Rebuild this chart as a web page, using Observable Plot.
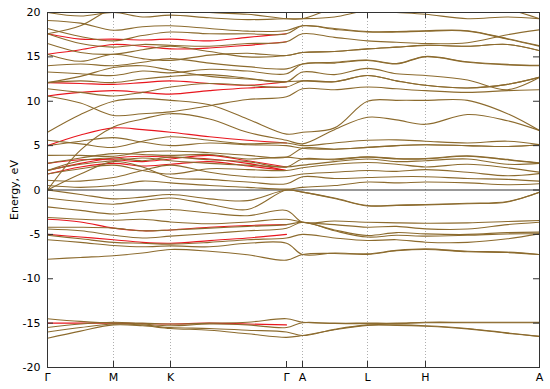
<!DOCTYPE html>
<html>
<head>
<meta charset="utf-8">
<script src="https://cdn.jsdelivr.net/npm/d3@7"></script>
<script src="https://cdn.jsdelivr.net/npm/@observablehq/plot@0.6"></script>
<style>
  html, body { margin: 0; padding: 0; background: white; }
</style>
</head>
<body>
<div id="chart"></div>
<script>
// k-path sample positions (path length units) and high-symmetry points
const kSample = [0, 33, 66, 95, 123, 162, 200, 239, 255, 287, 320, 349, 378, 420, 460, 492];
const kTicks = [0, 66, 123, 239, 255, 320, 378, 492];
const kLabels = ["Γ", "M", "K", "Γ", "A", "L", "H", "A"];
const gridK = [66, 123, 255, 320, 378];
const energyTicks = [-20, -15, -10, -5, 0, 5, 10, 15, 20];

// Energies (eV) at kSample points
const lowBands = [
  [-14.5, -14.8, -15.0, -15.0, -15.1, -15.0, -14.9, -14.5, -14.9, -15.0, -15.0, -15.0, -14.9, -14.9, -14.9, -14.9],
  [-15.5, -15.1, -14.9, -15.1, -15.3, -15.1, -15.2, -15.5, -14.95, -15.05, -15.05, -15.05, -14.95, -14.95, -14.95, -14.95],
  [-16.0, -15.5, -15.1, -15.2, -15.5, -15.6, -15.8, -16.0, -16.4, -15.7, -15.2, -15.2, -15.3, -15.6, -16.1, -16.5],
  [-16.7, -15.9, -15.2, -15.3, -15.6, -15.8, -16.2, -16.6, -16.4, -15.75, -15.25, -15.25, -15.35, -15.65, -16.15, -16.5]
];

const valenceBands = [
  [0.0, -0.5, -1.0, -0.8, -0.5, -1.0, -1.2, 0.0, -0.24, -0.9, -1.75, -1.7, -1.63, -1.5, -1.3, -0.24],
  [-0.9, -1.3, -1.6, -1.2, -0.9, -1.6, -2.2, 0.0, -0.24, -0.95, -1.8, -1.75, -1.68, -1.55, -1.35, -0.24],
  [-1.9, -2.3, -2.7, -2.4, -2.2, -2.6, -2.9, -2.3, -3.63, -3.5, -3.63, -3.7, -3.74, -3.7, -3.55, -3.44],
  [-3.1, -3.3, -3.4, -3.3, -3.6, -3.8, -3.6, -3.3, -3.63, -3.9, -4.19, -4.1, -4.38, -4.4, -3.9, -3.63],
  [-4.2, -4.2, -4.3, -4.6, -4.5, -4.3, -4.1, -3.9, -3.63, -4.5, -5.13, -4.8, -4.94, -5.0, -4.8, -4.75],
  [-4.4, -4.6, -5.1, -5.4, -5.2, -4.9, -4.6, -4.3, -3.63, -4.6, -5.3, -5.1, -5.2, -5.1, -4.95, -4.94],
  [-5.1, -5.5, -5.9, -6.0, -6.1, -5.9, -5.6, -5.4, -5.0, -5.4, -5.69, -5.6, -5.88, -5.9, -5.5, -4.94],
  [-5.6, -5.9, -6.25, -6.4, -6.3, -6.4, -6.0, -6.0, -7.27, -7.1, -7.19, -6.8, -6.63, -6.9, -7.0, -7.27],
  [-7.8, -7.6, -7.4, -7.1, -6.7, -6.9, -7.3, -7.9, -7.27, -7.15, -7.25, -6.85, -6.7, -6.95, -7.05, -7.27]
];

const conductionBands = [
  [0.5, 0.3, 0.5, 1.0, 0.8, 0.5, 0.3, 0.1, 0.3, 0.5, 0.9, 0.8, 0.9, 0.8, 0.6, 0.7],
  [0.0, 1.8, 3.2, 2.6, 1.4, 1.2, 0.9, 0.7, 1.5, 1.3, 1.4, 1.5, 1.5, 1.3, 1.2, 1.0],
  [1.1, 1.0, 1.4, 2.2, 2.8, 2.0, 1.5, 1.5, 1.8, 2.0, 2.2, 2.1, 2.3, 2.0, 1.6, 1.85],
  [1.8, 2.4, 2.8, 2.2, 1.8, 2.4, 2.3, 2.2, 2.5, 2.9, 3.1, 2.9, 2.6, 2.9, 2.5, 2.0],
  [2.2, 2.9, 3.3, 3.6, 3.3, 3.0, 2.8, 2.6, 2.8, 3.2, 3.5, 3.2, 3.3, 3.5, 2.9, 3.0],
  [2.2, 3.3, 3.6, 3.3, 3.7, 3.4, 3.2, 2.6, 3.5, 3.4, 3.7, 3.5, 3.5, 3.8, 3.4, 3.0],
  [3.0, 3.6, 4.1, 4.0, 3.9, 4.0, 3.5, 3.7, 3.5, 3.5, 3.75, 3.55, 3.55, 3.85, 3.45, 3.05],
  [3.9, 3.9, 3.8, 4.3, 4.4, 4.2, 3.9, 3.7, 4.7, 4.6, 4.8, 5.0, 5.1, 5.0, 4.9, 5.1],
  [5.0, 5.5, 5.9, 5.4, 5.0, 5.3, 5.1, 5.0, 4.7, 4.6, 4.8, 5.0, 5.1, 5.0, 4.9, 5.1],
  [5.6, 5.2, 4.8, 5.5, 6.0, 5.6, 5.2, 5.3, 5.0, 5.3, 5.6, 5.65, 5.5, 5.3, 5.5, 5.1],
  [6.5, 8.5, 10.0, 10.3, 10.1, 9.6, 8.0, 6.3, 6.5, 7.0, 10.0, 10.1, 10.1, 10.1, 8.6, 6.7],
  [0.0, 4.5, 7.1, 8.0, 8.6, 8.0, 6.5, 5.6, 5.2, 6.8, 8.2, 7.9, 7.4, 8.5, 7.8, 6.7],
  [10.6, 9.8, 8.4, 8.6, 8.8, 9.5, 10.2, 10.5, 11.4, 11.3, 11.6, 11.4, 11.2, 11.0, 11.2, 11.3],
  [11.4, 11.0, 10.6, 11.0, 11.6, 12.0, 11.8, 11.6, 12.3, 12.2, 12.9, 12.3, 11.8, 11.5, 11.9, 12.7],
  [12.1, 12.3, 12.1, 12.5, 12.8, 13.0, 12.6, 12.2, 13.3, 13.0, 13.7, 13.1, 12.9, 12.4, 11.3, 12.7],
  [12.1, 12.8, 13.8, 14.0, 13.5, 12.8, 12.5, 12.2, 12.3, 12.2, 12.9, 12.3, 11.8, 11.5, 11.9, 12.7],
  [13.3, 13.1, 12.9, 13.4, 13.2, 13.6, 13.4, 13.1, 14.2, 14.3, 14.6, 14.2, 15.0, 14.4, 14.1, 14.0],
  [14.0, 14.2, 14.0, 14.4, 14.8, 14.3, 13.9, 13.65, 14.2, 14.4, 14.65, 14.25, 15.05, 14.45, 14.15, 14.05],
  [15.3, 14.5, 15.3, 14.8, 14.6, 15.2, 15.4, 15.15, 15.5, 15.6, 15.9, 16.1, 16.3, 16.2, 16.4, 15.7],
  [16.5, 15.5, 15.3, 15.8, 16.2, 15.6, 15.0, 15.15, 15.5, 15.6, 15.9, 16.1, 16.3, 16.2, 16.4, 15.7],
  [17.6, 16.5, 16.1, 16.4, 16.3, 16.2, 16.5, 16.7, 17.6, 17.2, 16.8, 16.65, 16.5, 16.6, 17.5, 18.05],
  [18.2, 17.3, 16.8, 17.4, 17.8, 17.6, 17.6, 17.6, 18.5, 18.1, 17.8, 17.8, 17.9, 17.9, 17.0, 16.2],
  [19.1, 18.8, 18.0, 18.4, 18.5, 18.2, 17.9, 17.97, 18.5, 18.2, 17.85, 17.85, 17.95, 17.95, 17.05, 16.25],
  [20.0, 19.6, 20.0, 19.5, 19.7, 19.4, 19.2, 19.3, 19.3, 19.5, 20.2, 20.0, 19.8, 19.3, 19.5, 19.3],
  [17.6, 18.5, 20.5, 21.0, 20.5, 20.0, 19.8, 19.3, 19.3, 20.5, 21.0, 21.0, 21.0, 20.5, 20.3, 19.3]
];

// Second (red) data set, drawn along Γ–M–K–Γ only
const redBands = [
  [17.6, 17.0, 17.0, 16.9, 17.0, 16.8, 17.2, 17.6],
  [15.3, 15.8, 16.4, 16.2, 15.9, 16.0, 16.3, 16.7],
  [12.1, 12.0, 11.9, 12.1, 12.3, 12.0, 11.8, 12.2],
  [10.6, 11.0, 11.2, 11.0, 10.8, 11.2, 11.5, 11.6],
  [5.0, 6.2, 7.0, 6.8, 6.5, 6.0, 5.6, 5.3],
  [2.2, 3.0, 3.6, 3.8, 3.7, 3.5, 3.0, 2.2],
  [3.0, 3.4, 3.4, 3.2, 3.5, 3.9, 3.3, 2.6],
  [1.8, 2.6, 3.0, 2.7, 2.9, 3.2, 2.7, 2.2],
  [-3.3, -3.6, -4.3, -4.6, -4.5, -4.2, -4.0, -3.9],
  [-5.0, -5.3, -5.6, -5.9, -6.0, -5.7, -5.4, -5.0],
  [-15.0, -15.0, -15.0, -15.05, -15.1, -15.0, -15.1, -15.2]
];

function toRows(bands, prefix) {
  const rows = [];
  bands.forEach((b, i) => b.forEach((e, j) => rows.push({band: prefix + i, k: kSample[j], e})));
  return rows;
}
const brownRows = [
  ...toRows(lowBands, "low"),
  ...toRows(valenceBands, "val"),
  ...toRows(conductionBands, "con")
];
const redRows = toRows(redBands, "red");

const brown = "#8c6b2e";
const red = "#e8161e";
const innerW = 550 - 47 - 11;
const innerH = 389 - 12 - 22;

const chart = Plot.plot({
  width: 550,
  height: 389,
  marginLeft: 47,
  marginRight: 11,
  marginTop: 12,
  marginBottom: 22,
  x: {domain: [0, 492]},
  y: {domain: [-20, 20]},
  style: {fontFamily: "'DejaVu Sans', sans-serif", fontSize: "11px", background: "white", color: "black"},
  marks: [
    Plot.ruleX(gridK, {stroke: "#9a9a9a", strokeDasharray: "1,2", strokeWidth: 0.8}),
    Plot.ruleY([0], {stroke: "#333", strokeWidth: 1}),
    Plot.line(redRows, {x: "k", y: "e", z: "band", stroke: red, strokeWidth: 1.1, curve: "catmull-rom", clip: true}),
    Plot.line(brownRows, {x: "k", y: "e", z: "band", stroke: brown, strokeWidth: 1.1, curve: "catmull-rom", clip: true}),
    Plot.frame({stroke: "#333"}),
    Plot.tickX(kTicks, {stroke: "#333", insetTop: innerH - 6}),
    Plot.tickX(kTicks, {stroke: "#333", insetBottom: innerH - 6}),
    Plot.tickY(energyTicks, {stroke: "#333", insetRight: innerW - 6}),
    Plot.tickY(energyTicks, {stroke: "#333", insetLeft: innerW - 6}),
    Plot.axisX(kTicks, {tickSize: 0, tickPadding: 6, tickFormat: d => kLabels[kTicks.indexOf(d)], label: null}),
    Plot.axisY(energyTicks, {tickSize: 0, tickPadding: 7, tickFormat: d => String(d), label: "Energy, eV", labelAnchor: "center", labelArrow: "none", labelOffset: 37})
  ]
});
document.getElementById("chart").appendChild(chart);
</script>
</body>
</html>
